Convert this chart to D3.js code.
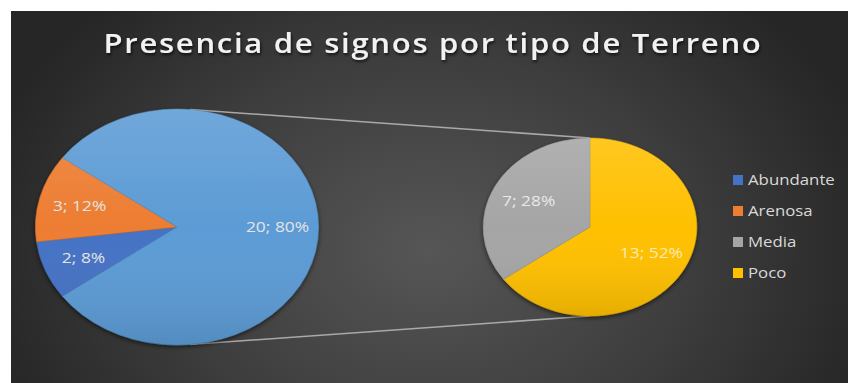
<!DOCTYPE html>
<html>
<head>
<meta charset="utf-8">
<script src="https://cdn.jsdelivr.net/npm/d3@7"></script>
<style>
  html, body { margin: 0; padding: 0; background: #ffffff; }
  svg { display: block; }
  text { font-family: "Open Sans", "Noto Sans", sans-serif; }
</style>
</head>
<body>
<svg id="chart" width="848" height="383"></svg>
<script>
// ---- data ----
const title = "Presencia de signos por tipo de Terreno";
const categories = ["Abundante", "Arenosa", "Media", "Poco"];
const values = [2, 3, 7, 13];
const colors = ["#4472c4", "#ed7d31", "#a5a5a5", "#ffc000"];
const otherColor = "#5b9bd5";
const mainCategories = ["Abundante", "Arenosa"];     // first pie
const secondCategories = ["Poco", "Media"];          // second pie (clockwise from top)

// ---- layout ----
const W = 848, H = 383;
const stretch = 1.2;
const svg = d3.select("#chart");
const defs = svg.append("defs");

const bg = defs.append("radialGradient").attr("id", "bg")
  .attr("gradientUnits", "userSpaceOnUse")
  .attr("cx", 430).attr("cy", 250).attr("r", 460)
  .attr("gradientTransform", "translate(430,250) scale(1,0.75) translate(-430,-250)");
bg.append("stop").attr("offset", "0").attr("stop-color", "#565656");
bg.append("stop").attr("offset", "0.55").attr("stop-color", "#3e3e3e");
bg.append("stop").attr("offset", "1").attr("stop-color", "#262626");

const shade = defs.append("linearGradient").attr("id", "shade")
  .attr("x1", 0).attr("y1", 0).attr("x2", 0).attr("y2", 1);
shade.append("stop").attr("offset", "0").attr("stop-color", "#ffffff").attr("stop-opacity", 0.13);
shade.append("stop").attr("offset", "0.5").attr("stop-color", "#ffffff").attr("stop-opacity", 0.0);
shade.append("stop").attr("offset", "1").attr("stop-color", "#000000").attr("stop-opacity", 0.1);

const shadow = defs.append("filter").attr("id", "shadow")
  .attr("x", "-20%").attr("y", "-20%").attr("width", "140%").attr("height", "140%");
shadow.append("feDropShadow").attr("dx", 0).attr("dy", 2).attr("stdDeviation", 2)
  .attr("flood-color", "#000").attr("flood-opacity", 0.55);

const tshadow = defs.append("filter").attr("id", "tshadow")
  .attr("x", "-10%").attr("y", "-30%").attr("width", "120%").attr("height", "160%");
tshadow.append("feDropShadow").attr("dx", 1).attr("dy", 2).attr("stdDeviation", 1.5)
  .attr("flood-color", "#000").attr("flood-opacity", 0.7);

svg.append("rect").attr("x", 11).attr("y", 11).attr("width", W - 11).attr("height", H - 11)
  .attr("fill", "url(#bg)");

// title
const titleEl = svg.append("text")
  .attr("x", 433).attr("y", 53)
  .attr("text-anchor", "middle")
  .attr("font-size", 27).attr("font-weight", 600)
  .attr("letter-spacing", 1.5)
  .attr("fill", "#f2f2f2")
  .attr("filter", "url(#tshadow)")
  .attr("textLength", 659).attr("lengthAdjust", "spacingAndGlyphs")
  .text(title);

// ---- derived data ----
const total = d3.sum(values);
const valOf = c => values[categories.indexOf(c)];
const colOf = c => colors[categories.indexOf(c)];
const otherVal = d3.sum(secondCategories, valOf);
const pct = v => Math.round(v / total * 100) + "%";

const mainData = [
  ...mainCategories.map(c => ({name: c, value: valOf(c), color: colOf(c)})),
  {name: "Otro", value: otherVal, color: otherColor}
];
const secondData = secondCategories.map(c => ({name: c, value: valOf(c), color: colOf(c)}));

const deg = Math.PI / 180;
const smallSpan = d3.sum(mainCategories, valOf) / total * 360;
const mainStart = (270 - smallSpan / 2) * deg;

const pieMain = d3.pie().sort(null).value(d => d.value)
  .startAngle(mainStart).endAngle(mainStart + 2 * Math.PI);
const pieSecond = d3.pie().sort(null).value(d => d.value)
  .startAngle(0).endAngle(2 * Math.PI);

const P1 = {cx: 177, cy: 227, r: 118, lr: 0.71};
const P2 = {cx: 590, cy: 227, r: 89, lr: 0.645};

// connector lines
const conA = 5.3 * deg;
const lineCol = "#a9a9a9";
[[conA, 0], [Math.PI - conA, Math.PI]].forEach(([a1, a2]) => {
  svg.append("line")
    .attr("x1", P1.cx + stretch * P1.r * Math.sin(a1)).attr("y1", P1.cy - P1.r * Math.cos(a1))
    .attr("x2", P2.cx + stretch * P2.r * Math.sin(a2)).attr("y2", P2.cy - P2.r * Math.cos(a2))
    .attr("stroke", lineCol).attr("stroke-width", 1.6);
});

function drawPie(P, arcs, labelFill) {
  const g = svg.append("g")
    .attr("transform", `translate(${P.cx},${P.cy}) scale(${stretch},1)`);
  const arc = d3.arc().innerRadius(0).outerRadius(P.r);
  const inner = g.append("g").attr("filter", "url(#shadow)");
  inner.selectAll("path").data(arcs).join("path")
    .attr("d", arc)
    .attr("fill", d => d.data.color)
    .attr("stroke", d => d3.color(d.data.color).darker(0.3))
    .attr("stroke-width", 0.5);
  g.append("circle").attr("r", P.r).attr("fill", "url(#shade)");

  const labelArc = d3.arc().innerRadius(P.r * P.lr).outerRadius(P.r * P.lr);
  arcs.forEach(d => {
    const mid = (d.startAngle + d.endAngle) / 2;
    const x = P.cx + stretch * P.r * P.lr * Math.sin(mid);
    const y = P.cy - P.r * P.lr * Math.cos(mid);
    svg.append("text")
      .attr("transform", `translate(${x},${y}) scale(${stretch},1)`)
      .attr("text-anchor", "middle").attr("dy", "0.36em")
      .attr("font-size", 14.5)
      .attr("fill", labelFill(d))
      .text(`${d.data.value}; ${pct(d.data.value)}`);
  });
}

drawPie(P1, pieMain(mainData), d => "#e4e4e4");
drawPie(P2, pieSecond(secondData), d => d.data.name === "Poco" ? "#fbeab0" : "#e8e8e8");

// legend
const legend = svg.append("g");
categories.forEach((c, i) => {
  const y = 180 + i * 31;
  legend.append("rect").attr("x", 733).attr("y", y - 5).attr("width", 10).attr("height", 10)
    .attr("fill", colors[i]);
  legend.append("text")
    .attr("transform", `translate(748,${y}) scale(${stretch},1)`)
    .attr("dy", "0.36em").attr("font-size", 14)
    .attr("fill", "#d9d9d9")
    .text(c);
});
</script>
</body>
</html>
